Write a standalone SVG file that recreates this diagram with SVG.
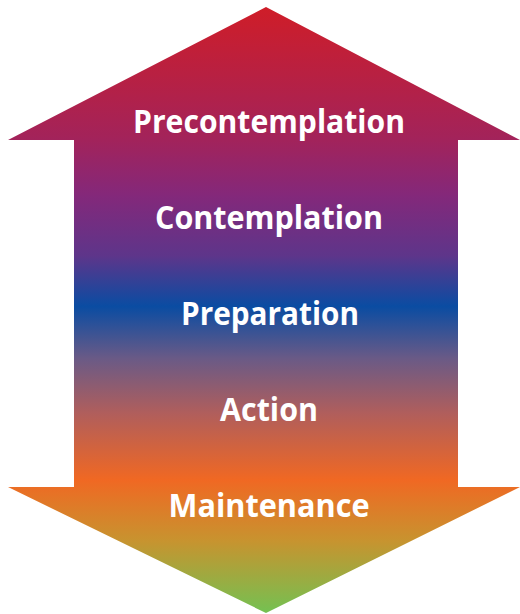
<svg xmlns="http://www.w3.org/2000/svg" width="520" height="614" viewBox="0 0 520 614">
  <defs>
    <linearGradient id="stageGrad" gradientUnits="userSpaceOnUse" x1="0" y1="7" x2="0" y2="613">
      <stop offset="0" stop-color="#cf1d28"/>
      <stop offset="0.22" stop-color="#a2235b"/>
      <stop offset="0.31" stop-color="#84287a"/>
      <stop offset="0.41" stop-color="#5e358a"/>
      <stop offset="0.494" stop-color="#0a4ca2"/>
      <stop offset="0.58" stop-color="#6a5a86"/>
      <stop offset="0.67" stop-color="#b05e5c"/>
      <stop offset="0.78" stop-color="#f06823"/>
      <stop offset="0.88" stop-color="#c8932f"/>
      <stop offset="1" stop-color="#74c152"/>
    </linearGradient>
    <style>
      .label { font-family: "Open Sans", "Liberation Sans", sans-serif; font-weight: 700; font-size: 32.5px; fill: #ffffff; text-anchor: middle; }
    </style>
  </defs>
  <!-- double-headed arrow body -->
  <g id="arrow">
    <path d="M266,7 L520,140 L458,140 L458,487 L520,487 L266,613 L8,487 L74,487 L74,140 L8,140 Z" fill="url(#stageGrad)"/>
  </g>
  <g id="precontemplation"><text class="label" x="269" y="133" textLength="272" lengthAdjust="spacingAndGlyphs">Precontemplation</text></g>
  <g id="contemplation"><text class="label" x="269" y="229" textLength="228" lengthAdjust="spacingAndGlyphs">Contemplation</text></g>
  <g id="preparation"><text class="label" x="270" y="325" textLength="178" lengthAdjust="spacingAndGlyphs">Preparation</text></g>
  <g id="action"><text class="label" x="269" y="421" textLength="98" lengthAdjust="spacingAndGlyphs">Action</text></g>
  <g id="maintenance"><text class="label" x="269" y="517" textLength="201" lengthAdjust="spacingAndGlyphs">Maintenance</text></g>
</svg>
